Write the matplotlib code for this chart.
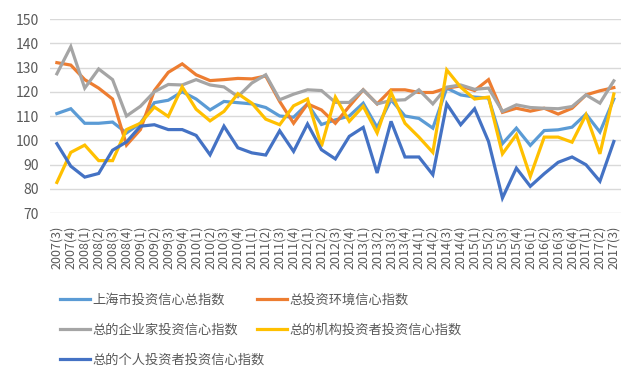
import numpy as np
import matplotlib
matplotlib.use('Agg')
import matplotlib.pyplot as plt

plt.rcParams['font.family'] = ['Noto Sans CJK SC', 'DejaVu Sans']

# quarters 2007(3) .. 2017(3)
quarters = []
for y in range(2007, 2018):
    for q in range(1, 5):
        if (y == 2007 and q < 3) or (y == 2017 and q > 3):
            continue
        quarters.append('%d(%d)' % (y, q))

sh_total = [111, 113, 107, 107, 107.5, 103, 107, 115.5, 116.5, 120,
            117, 112.5, 116, 115.5, 115, 113.5, 110, 109.5, 115, 106.5,
            108.4, 110, 115.3, 105.3, 116.7, 110, 109, 105, 121.5, 118.7,
            117.8, 117.4, 98.6, 105, 97.9, 104, 104.3, 105.4, 110.8, 103.4,
            117]
env = [132, 131, 125, 121.5, 117, 98, 104.4, 120.5, 128, 131.5,
       127, 124.6, 125, 125.5, 125.3, 126.5, 116, 107, 115, 112.5,
       107, 114, 120.8, 115, 120.8, 120.8, 119.7, 119.7, 121.5, 122.4,
       120.5, 125, 111.5, 113.2, 112, 113.2, 110.8, 113.2, 118.7, 120.4,
       121.7]
corp = [127.4, 138.6, 121.5, 129.4, 125, 110, 114, 120, 123, 122.8,
        125, 122.8, 122, 118, 123.6, 127, 116.7, 119, 120.8, 120.5,
        115.6, 115.6, 120.8, 115, 116.4, 116.7, 120.8, 115, 121.9, 122.8,
        121, 121.5, 111.9, 114.6, 113.5, 113.2, 113, 113.9, 118.7, 115.3,
        124.5]
inst = [82.6, 95, 98, 91.6, 91.6, 104.4, 107, 113.7, 109.8, 122,
        112.8, 108, 111.9, 119.2, 115.3, 108.7, 106.4, 114.2, 117, 97.5,
        117.8, 107.8, 114, 103, 119.7, 107, 101.3, 95, 129, 121.9,
        117, 117.8, 94.4, 102.3, 85.1, 101.3, 101.3, 99.2, 110.5, 94.4,
        119.1]
indiv = [98.6, 89.3, 84.8, 86.3, 95.9, 99.3, 105.8, 106.4, 104.4, 104.4,
         102, 94, 105.8, 96.9, 94.8, 93.9, 103.9, 95.4, 106.7, 96.1,
         92.3, 101.6, 105.3, 86.5, 107.8, 93.1, 93.1, 85.8, 115, 106.4,
         113, 99.5, 76.2, 88.5, 81, 86.2, 90.9, 93.1, 89.9, 83.1,
         99.5]

names = ['上海市投资信心总指数', '总投资环境信心指数', '总的企业家投资信心指数',
         '总的机构投资者投资信心指数', '总的个人投资者投资信心指数']
colors = ['#5B9BD5', '#ED7D31', '#A5A5A5', '#FFC000', '#4472C4']
series = [sh_total, env, corp, inst, indiv]

fig = plt.figure(figsize=(6.4, 3.84), dpi=100)
ax = fig.add_axes([0.078, 0.4453, 0.892, 0.5052])

x = np.arange(len(quarters))
lines = []
for vals, name, c in zip(series, names, colors):
    ln, = ax.plot(x, vals, color=c, lw=2.3, label=name, solid_joinstyle='miter')
    lines.append(ln)

ax.set_xlim(-0.5, len(quarters) - 0.5)
ax.set_ylim(70, 150)
ax.set_yticks(range(70, 151, 10))
ax.set_xticks(x)
ax.set_xticklabels(quarters, rotation=90, fontsize=9, color='#595959')
ax.tick_params(axis='y', labelsize=10, labelcolor='#595959', length=0, pad=8)
ax.tick_params(axis='x', length=0, pad=9)
ax.grid(axis='y', color='#D9D9D9', lw=1)
ax.set_axisbelow(True)
for s in ax.spines.values():
    s.set_visible(False)

# legend: 2 columns, filled row-wise like the original
order = [0, 2, 4, 1, 3]
fig.legend([lines[i] for i in order], [names[i] for i in order],
           loc='upper left', bbox_to_anchor=(0.093, 0.236), ncol=2,
           frameon=False, fontsize=9.5, labelcolor='#595959',
           handlelength=2.3, handletextpad=0.2, columnspacing=-0.6,
           labelspacing=1.3, borderaxespad=0, borderpad=0)

fig.savefig('out.png', dpi=100)
